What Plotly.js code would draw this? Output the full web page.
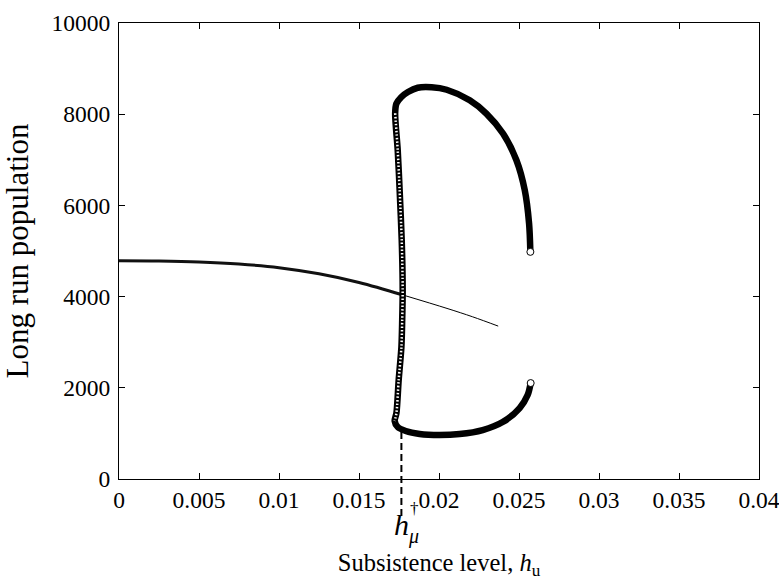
<!DOCTYPE html>
<html>
<head>
<meta charset="utf-8">
<script src="https://cdn.plot.ly/plotly-3.0.1.min.js"></script>
<style>html,body{margin:0;padding:0;background:#fff;}#chart{width:779px;height:580px;}</style>
</head>
<body>
<div id="chart"></div>
<script>
// Equilibrium curve (parabola-like): stable part and unstable part
const eqStableX = [0, 0.0025, 0.005, 0.0075, 0.01, 0.0125, 0.015, 0.0177];
const eqStableY = [4785, 4780, 4760, 4715, 4635, 4500, 4310, 4040];
const eqUnstableX = [0.0177, 0.0205, 0.0221, 0.0237];
const eqUnstableY = [4040, 3741, 3557, 3353];

// Limit cycle branch: upper arc, left (unstable) branch, lower arc
const upperX = [0.02571, 0.02563, 0.02536, 0.02484, 0.02400, 0.02296, 0.02192, 0.02048, 0.01954, 0.01867, 0.01806, 0.01765, 0.01734, 0.01726];
const upperY = [4981, 5604, 6334, 6991, 7576, 8014, 8306, 8536, 8591, 8580, 8488, 8378, 8234, 8021];
const leftX = [0.01726, 0.01742, 0.01754, 0.01767, 0.01773, 0.01770, 0.01765, 0.01748, 0.01734, 0.01723];
const leftY = [8021, 7210, 6334, 5238, 4142, 3485, 2893, 2170, 1446, 1271];
const lowerX = [0.01723, 0.01742, 0.01792, 0.01879, 0.02004, 0.02129, 0.02273, 0.02398, 0.02504, 0.02554, 0.02573];
const lowerY = [1271, 1140, 1052, 986, 964, 986, 1074, 1249, 1556, 1841, 2104];

// Marked threshold
const hDagger = 0.01765;

// Tick labels
const xTickVals = [0, 0.005, 0.01, 0.015, 0.02, 0.025, 0.03, 0.035, 0.04];
const xTickText = ["0", "0.005", "0.01", "0.015", "0.02", "0.025", "0.03", "0.035", "0.04"];
const yTickVals = [0, 2000, 4000, 6000, 8000, 10000];
const yTickText = ["0", "2000", "4000", "6000", "8000", "10000"];

const cycleX = upperX.concat(leftX.slice(1), lowerX.slice(1));
const cycleY = upperY.concat(leftY.slice(1), lowerY.slice(1));

const traces = [
  {x: eqStableX, y: eqStableY, mode: 'lines', line: {color: '#111', width: 3, shape: 'spline'}, hoverinfo: 'skip'},
  {x: eqUnstableX, y: eqUnstableY, mode: 'lines', line: {color: '#000', width: 1, shape: 'spline'}, hoverinfo: 'skip'},
  {x: cycleX, y: cycleY, mode: 'lines', line: {color: '#000', width: 6.5, shape: 'spline', smoothing: 0.8}, hoverinfo: 'skip'},
  {x: leftX, y: leftY, mode: 'lines', line: {color: '#fff', width: 2.5, shape: 'spline', smoothing: 0.8, dash: '1.5px,2px'}, hoverinfo: 'skip'},
  {x: [upperX[0], lowerX[lowerX.length - 1]], y: [upperY[0], lowerY[lowerY.length - 1]], mode: 'markers',
   marker: {symbol: 'circle', size: 7, color: '#fff', line: {color: '#000', width: 1}}, hoverinfo: 'skip'}
];

const serif = 'Liberation Serif, Times New Roman, serif';
const axisCommon = {
  showline: true, linecolor: '#000', linewidth: 1, mirror: 'ticks',
  ticks: 'inside', ticklen: 6, tickwidth: 1, tickcolor: '#000',
  ticklabeloverflow: 'allow',
  showgrid: false, zeroline: false, tickfont: {family: serif, size: 23.5, color: '#000'}
};

const layout = {
  width: 779, height: 580,
  margin: {l: 119, r: 20, t: 23, b: 101},
  paper_bgcolor: '#fff', plot_bgcolor: '#fff',
  showlegend: false,
  font: {family: serif, color: '#000'},
  xaxis: Object.assign({}, axisCommon, {
    range: [0, 0.04], tickmode: 'array', tickvals: xTickVals, ticktext: xTickText,
    title: {text: 'Subsistence level, <i>h</i><sub>u</sub>', font: {family: serif, size: 24.5, color: '#000'}, standoff: 49}
  }),
  yaxis: Object.assign({}, axisCommon, {
    range: [0, 10000], tickmode: 'array', tickvals: yTickVals, ticktext: yTickText,
    ticklabelstandoff: 3,
    title: {text: 'Long run population', font: {family: serif, size: 31, color: '#000'}, standoff: 14}
  }),
  shapes: [
    {type: 'line', xref: 'x', yref: 'paper', x0: hDagger, x1: hDagger, y0: -0.081, y1: 0.105,
     line: {color: '#000', width: 2, dash: '7px,4px'}}
  ],
  annotations: [
    {xref: 'x', yref: 'paper', x: hDagger, y: -0.1, text: '<i>h</i>', showarrow: false,
     xanchor: 'center', yanchor: 'middle', font: {family: serif, size: 30, color: '#000'}},
    {xref: 'x', yref: 'paper', x: 0.01838, y: -0.127, text: '<i>μ</i>', showarrow: false,
     xanchor: 'center', yanchor: 'middle', font: {family: serif, size: 20, color: '#000'}},
    {xref: 'x', yref: 'paper', x: 0.01848, y: -0.064, text: '†', showarrow: false,
     xanchor: 'center', yanchor: 'middle', font: {family: serif, size: 17, color: '#000'}}
  ]
};

Plotly.newPlot('chart', traces, layout, {staticPlot: true, displayModeBar: false});
</script>
</body>
</html>
